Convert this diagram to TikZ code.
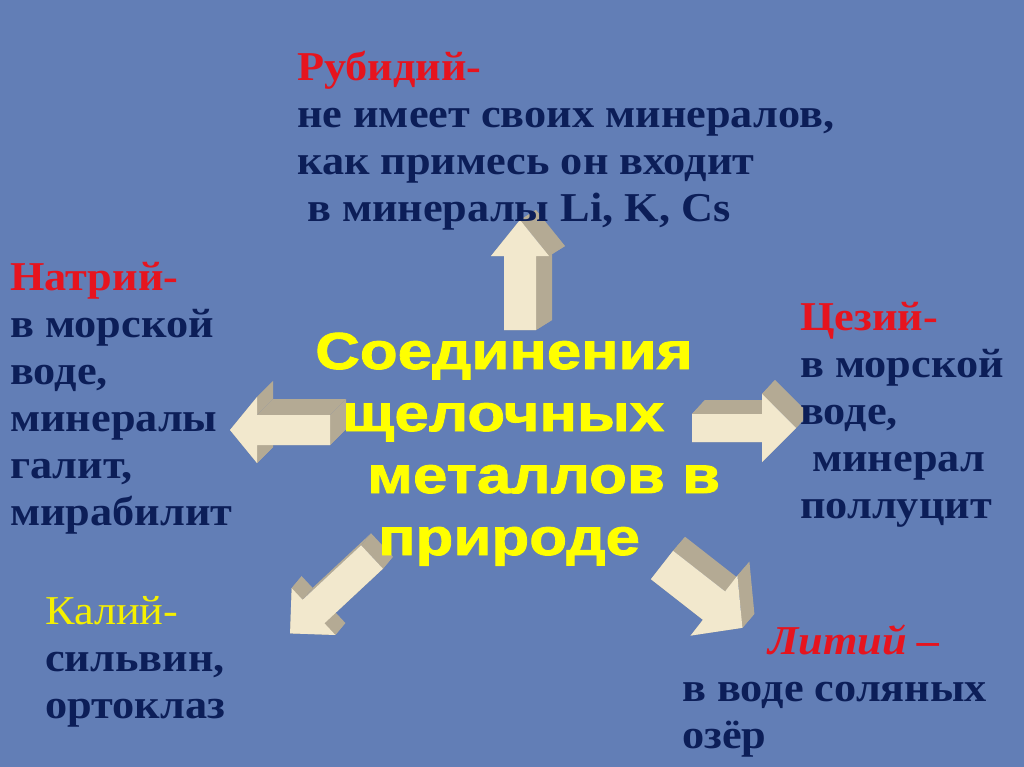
\documentclass[tikz,border=0pt]{standalone}
\usepackage{fontspec}
\setmainfont[FakeStretch=1.08]{Liberation Serif}
\newfontfamily\titlefont[FakeStretch=1.19,FakeBold=1.6]{Liberation Sans}
\usetikzlibrary{calc}
\definecolor{bgblue}{RGB}{98,126,182}
\definecolor{navy}{RGB}{12,30,88}
\definecolor{titleyellow}{RGB}{255,255,0}
\definecolor{kyellow}{RGB}{245,240,0}
\definecolor{elred}{RGB}{230,20,30}
\definecolor{arrowfront}{RGB}{242,232,205}
\definecolor{arrowside}{RGB}{180,170,148}
\tikzstyle{info} = [anchor=base west, align=left, inner sep=0pt, text=navy, font=\fontsize{41}{47}\selectfont\bfseries]
\tikzstyle{title} = [anchor=base west, align=left, inner sep=0pt, text=titleyellow, font=\fontsize{52}{62}\selectfont\titlefont\bfseries]
% tail, angle, length, head length, shaft half width, head half width, depth x, depth y
\newcommand{\blockarrow}[8]{%
\begin{scope}[shift={#1},rotate=#2]
\coordinate (a1) at (0,#5);
\coordinate (a2) at (#3-#4,#5);
\coordinate (a3) at (#3-#4,#6);
\coordinate (a4) at (#3,0);
\coordinate (a5) at (#3-#4,-#6);
\coordinate (a6) at (#3-#4,-#5);
\coordinate (a7) at (0,-#5);
\end{scope}
\foreach \p/\q in {a1/a2,a2/a3,a3/a4,a4/a5,a5/a6,a6/a7,a7/a1}
  \fill[arrowside] (\p) -- (\q) -- ($(\q)+(#7,#8)$) -- ($(\p)+(#7,#8)$) -- cycle;
\fill[arrowfront] (a1) -- (a2) -- (a3) -- (a4) -- (a5) -- (a6) -- (a7) -- cycle;
}

\begin{document}
\begin{tikzpicture}[x=1pt,y=-1pt]
\fill[bgblue] (0,0) rectangle (1024,767);
\useasboundingbox (0,0) rectangle (1024,767);

\blockarrow{(520,330)}{90}{110}{36}{16}{29}{16}{-10}
\blockarrow{(330,430)}{180}{100}{27}{15}{33}{16}{-16}
\blockarrow{(692,428)}{0}{104}{34}{14}{34}{13}{-14}
\blockarrow{(372,557)}{223}{112}{32}{16}{32}{10}{-12}
\blockarrow{(662,565)}{-38}{102}{36}{18}{38}{12}{-14}

\node[title] (center) at (315,555) {Соединения\\
\hspace*{27pt}щелочных\\
\hspace*{52pt}металлов в\\
\hspace*{63pt}природе};

\node[info] (rb) at (297,222) {\textcolor{elred}{Рубидий-}\\
не имеет своих минералов,\\
как примесь он входит\\
\hspace*{10pt}в минералы Li, K, Cs};
\node[info] (na) at (10,525) {\textcolor{elred}{Натрий-}\\
в морской\\
воде,\\
минералы\\
галит,\\
мирабилит};
\node[info] (cs) at (800,518) {\textcolor{elred}{Цезий-}\\
в морской\\
воде,\\
\hspace*{12pt}минерал\\
поллуцит};
\node[info] (k) at (45,718) {\textcolor{kyellow}{\mdseries Калий-}\\
сильвин,\\
ортоклаз};
\node[info] (li) at (682,748) {\hspace*{86pt}\textcolor{elred}{\itshape Литий –}\\
в воде соляных\\
озёр};
\end{tikzpicture}
\end{document}
